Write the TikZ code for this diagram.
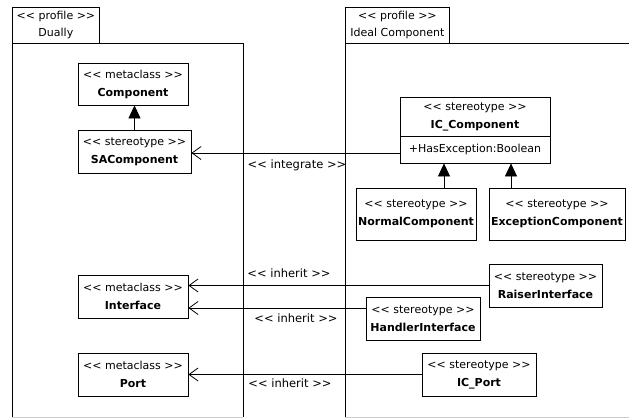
\documentclass[tikz,border=0pt]{standalone}
\usepackage{fontspec}
\setmainfont{DejaVu Sans}
\usetikzlibrary{arrows.meta}
\tikzset{
  x=1pt, y=-1pt,
  line/.style={line width=0.8pt},
  cls/.style={draw, line width=0.8pt, rectangle, inner sep=0pt, align=center,
    font=\fontsize{11}{18}\selectfont},
  lbl/.style={inner sep=0pt, font=\fontsize{11.5}{12}\selectfont},
  openarrow/.style={line width=0.8pt, -{Straight Barb[length=9pt,width=13pt,line width=0.8pt]}},
  genarrow/.style={line width=0.8pt, -{Triangle[length=13pt,width=12pt]}},
}
\newcommand{\lguil}{<{}<}
\newcommand{\rguil}{>{}>}
\newcommand{\stereo}[2]{\lguil{} #1 \rguil\\{\fontsize{11}{18}\selectfont\bfseries #2}}
\begin{document}
\begin{tikzpicture}
\useasboundingbox (0,0) rectangle (629,418);
\clip (0,0) rectangle (629,418);
% packages
\node[cls, minimum width=87pt, minimum height=36pt, anchor=north west,
  font=\fontsize{11}{17}\selectfont] (ptabL) at (12,7) {\lguil{} profile \rguil\\Dually};
\draw[line, black!20] (12,417) -- (243,417);
\draw[line] (12,417) -- (12,43) -- (243,43) -- (243,417);
\node[cls, minimum width=104pt, minimum height=36pt, anchor=north west,
  font=\fontsize{11}{17}\selectfont] (ptabR) at (345,7) {\lguil{} profile \rguil\\Ideal Component};
\draw[line, black!20] (345,417) -- (640,417);
\draw[line] (345,417) -- (345,43) -- (640,43);
% left classes
\node[cls, minimum width=110pt, minimum height=42pt] (comp) at (133,84) {\stereo{metaclass}{Component}};
\node[cls, minimum width=113pt, minimum height=43pt, fill=white] (sacomp) at (134.5,151.5) {\stereo{stereotype}{SAComponent}};
\node[cls, minimum width=110pt, minimum height=43pt] (iface) at (133,296.5) {\stereo{metaclass}{Interface}};
\node[cls, minimum width=110pt, minimum height=43pt] (port) at (133,374.5) {\stereo{metaclass}{Port}};
% right classes
\node[cls, minimum width=150pt, minimum height=39pt] (ichead) at (475,116.5) {\stereo{stereotype}{IC\_Component}};
\node[cls, minimum width=150pt, minimum height=27pt] (icattr) at (475,149.5) {+HasException:Boolean};
\node[cls, minimum width=120pt, minimum height=52pt] (normal) at (416,214) {\stereo{stereotype}{NormalComponent}};
\node[cls, minimum width=136pt, minimum height=52pt] (exc) at (557,214) {\stereo{stereotype}{ExceptionComponent}};
\node[cls, minimum width=113pt, minimum height=43pt] (raiser) at (545.5,285.5) {\stereo{stereotype}{RaiserInterface}};
\node[cls, minimum width=114pt, minimum height=43pt, fill=white] (handler) at (423,318.5) {\stereo{stereotype}{HandlerInterface}};
\node[cls, minimum width=114pt, minimum height=43pt, fill=white] (icport) at (479,374.5) {\stereo{stereotype}{IC\_Port}};
% generalizations
\draw[genarrow] (sacomp.north) -- (sacomp.north |- comp.south);
\draw[genarrow] ([xshift=28pt]normal.north) -- ([xshift=28pt]normal.north |- icattr.south);
\draw[genarrow] ([xshift=-46pt]exc.north) -- ([xshift=-46pt]exc.north |- icattr.south);
% dependencies
\draw[openarrow] ([yshift=-3.5pt]icattr.west) -- ([yshift=-3.5pt]icattr.west -| sacomp.east);
\draw[openarrow] (raiser.west) -- (raiser.west -| iface.east);
\draw[openarrow] ([yshift=10.5pt]handler.west) -- ([yshift=10.5pt]handler.west -| iface.east);
\draw[openarrow] (icport.west) -- (icport.west -| port.east);
% labels
\node[lbl] (lint) at (297,165) {\lguil{} integrate \rguil};
\node[lbl] (linh1) at (289,273) {\lguil{} inherit \rguil};
\node[lbl] (linh2) at (296,318) {\lguil{} inherit \rguil};
\node[lbl] (linh3) at (290,383) {\lguil{} inherit \rguil};
\end{tikzpicture}
\end{document}
